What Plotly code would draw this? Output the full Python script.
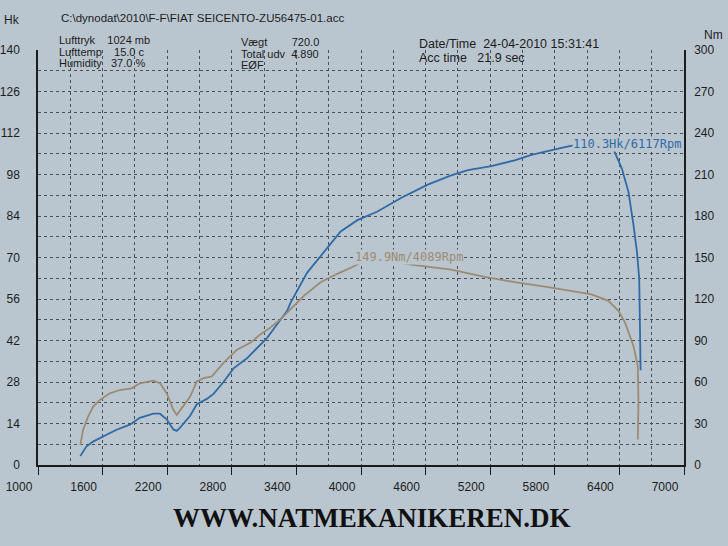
import plotly.graph_objects as go

# ---- data ----
power_rpm = [1393, 1449, 1511, 1604, 1729, 1853, 1946, 2071, 2133, 2195, 2257, 2289, 2320,
             2413, 2475, 2568, 2630, 2723, 2816, 2941, 3034, 3128, 3221, 3314, 3345, 3500,
             3655, 3811, 3967, 4153, 4371, 4620, 4837, 4993, 5210, 5427, 5583, 5738, 5893,
             6049, 6117, 6263, 6345, 6422, 6484, 6531, 6563, 6584, 6593, 6597]
power_hk = [3.0, 6.2, 7.9, 9.6, 11.9, 13.6, 15.9, 17.3, 17.3, 15.4, 12.0, 11.5, 12.6,
            16.6, 20.5, 22.3, 24.0, 28.0, 32.6, 36.0, 39.5, 42.9, 47.5, 52.0, 54.7, 64.9,
            71.8, 78.8, 82.6, 85.5, 90.1, 94.6, 97.7, 99.5, 100.8, 102.8, 104.6, 106.0, 107.2,
            108.4, 110.3, 109.0, 106.5, 100.1, 92.2, 80.9, 71.9, 62.9, 47.1, 32.0]

torque_rpm = [1393, 1418, 1464, 1511, 1573, 1667, 1760, 1869, 1946, 2070, 2133, 2195, 2257,
              2289, 2335, 2413, 2475, 2537, 2615, 2723, 2848, 2972, 3065, 3158, 3252, 3345,
              3469, 3625, 3780, 3920, 4089, 4464, 4837, 5147, 5427, 5738, 5986, 6142, 6298,
              6391, 6453, 6531, 6571, 6577, 6571]
torque_nm = [14.4, 25.2, 34.8, 42.1, 46.9, 51.8, 54.2, 55.4, 59.1, 61.0, 59.1, 51.9, 39.9,
             36.2, 41.1, 49.5, 60.4, 62.8, 64.1, 73.8, 83.4, 88.3, 94.4, 99.3, 105.3, 112.6,
             122.3, 132.1, 138.2, 143.1, 149.9, 144.9, 141.2, 136.0, 132.2, 128.6, 125.6, 123.3, 118.7,
             111.4, 102.9, 85.9, 71.5, 45.0, 18.5]

x_ticks = [1000, 1600, 2200, 2800, 3400, 4000, 4600, 5200, 5800, 6400, 7000]
hk_ticks = [0, 14, 28, 42, 56, 70, 84, 98, 112, 126, 140]
nm_ticks = [0, 30, 60, 90, 120, 150, 180, 210, 240, 270, 300]

header_file = "C:\\dynodat\\2010\\F-F\\FIAT SEICENTO-ZU56475-01.acc"
header_left = ["Lufttryk    1024 mb", "Lufttemp    15.0 c", "Humidity   37.0 %"]
header_mid = ["Vægt        720.0", "Total udv  4.890", "EØF"]
header_right = ["Date/Time  24-04-2010 15:31:41", "Acc time   21.9 sec"]
peak_torque = (4089, 149.9, "149.9Nm/4089Rpm")
peak_power = (6117, 110.3, "110.3Hk/6117Rpm")
footer = "WWW.NATMEKANIKEREN.DK"

# ---- layout geometry ----
W, H = 728, 546
L, R, T, B = 38, 44, 50, 81
PW, PH = W - L - R, H - T - B
BG = "#bac6cf"
BLUE = "#2f6aa6"
TAN = "#9c8a72"
INK = "#1c1c1c"
GRID = "#4a5058"


def px(x, y):
    return (x - L) / PW, (H - B - y) / PH


fig = go.Figure()
fig.add_trace(go.Scatter(x=power_rpm, y=power_hk, mode="lines",
                         line=dict(color=BLUE, width=1.8), yaxis="y", hoverinfo="skip"))
fig.add_trace(go.Scatter(x=torque_rpm, y=torque_nm, mode="lines",
                         line=dict(color=TAN, width=1.8), yaxis="y2", hoverinfo="skip"))

tickfont = dict(family="Liberation Sans, Arial", size=12, color=INK)

fig.update_layout(
    width=W, height=H,
    margin=dict(l=L, r=R, t=T, b=B),
    paper_bgcolor=BG, plot_bgcolor=BG,
    showlegend=False,
    xaxis=dict(range=[1000, 7000], tickvals=x_ticks, ticks="outside", ticklen=8,
               tickcolor=INK, showline=True, linecolor=INK, linewidth=1.5,
               showgrid=False, zeroline=False, tickfont=tickfont, automargin=False,
               ticklabelshift=-19, ticklabelstandoff=2,
               minor=dict(tickvals=list(range(1300, 7000, 300)), showgrid=True,
                          gridcolor=GRID, griddash="dot", gridwidth=1)),
    yaxis=dict(range=[0, 140], tickvals=hk_ticks, ticks="", showline=True,
               linecolor=INK, linewidth=1.5, showgrid=False, zeroline=False,
               tickfont=tickfont, ticklabelstandoff=14, automargin=False,
               minor=dict(tickvals=list(range(7, 140, 7)), showgrid=True,
                          gridcolor=GRID, griddash="dot", gridwidth=1)),
    yaxis2=dict(range=[0, 300], tickvals=nm_ticks, overlaying="y", side="right",
                ticks="", showline=True, linecolor=INK, linewidth=1.5,
                showgrid=False, zeroline=False, tickfont=tickfont, automargin=False,
                ticklabelstandoff=6),
)

ann = []


def text(x, y, s, size=12, family="Liberation Sans, Arial",
         color=INK, xanchor="left", bold=False):
    ax, ay = px(x, y)
    ann.append(dict(x=ax, y=ay, xref="paper", yref="paper", text=s, showarrow=False,
                    xanchor=xanchor, yanchor="middle", borderpad=0,
                    font=dict(family=family, size=size, color=color,
                              weight="bold" if bold else "normal")))


def sp(s):
    return s.replace(" ", "&nbsp;")


text(3, 20, "Hk")
text(724, 35, "Nm", xanchor="right")
text(60, 18, header_file, size=11.5)
for i, s in enumerate(header_left):
    text(58, 40 + i * 11.5, sp(s), size=11)
for i, s in enumerate(header_mid):
    text(240, 42 + i * 11.5, sp(s), size=11)
for i, s in enumerate(header_right):
    text(418, 44 + i * 13.5, sp(s), size=12.5)

text(372, 518, footer, size=27, family="Liberation Serif, Times New Roman",
     color="#111111", xanchor="center", bold=True)

# peak labels (data coordinates)
ann.append(dict(x=peak_torque[0], y=peak_torque[1], xref="x", yref="y2",
                text=peak_torque[2], showarrow=False, xanchor="left", yanchor="middle",
                xshift=-17, yshift=1, bgcolor=BG, borderpad=0,
                font=dict(family="DejaVu Sans Mono", size=12, color=TAN)))
ann.append(dict(x=peak_power[0], y=peak_power[1], xref="x", yref="y",
                text=peak_power[2], showarrow=False, xanchor="left", yanchor="middle",
                xshift=-17, yshift=-6, bgcolor=BG, borderpad=0,
                font=dict(family="DejaVu Sans Mono", size=12, color=BLUE)))

fig.update_layout(annotations=ann)
fig.write_html("out.html", config={"displayModeBar": False},
               post_script="document.body.style.margin='0px';")
